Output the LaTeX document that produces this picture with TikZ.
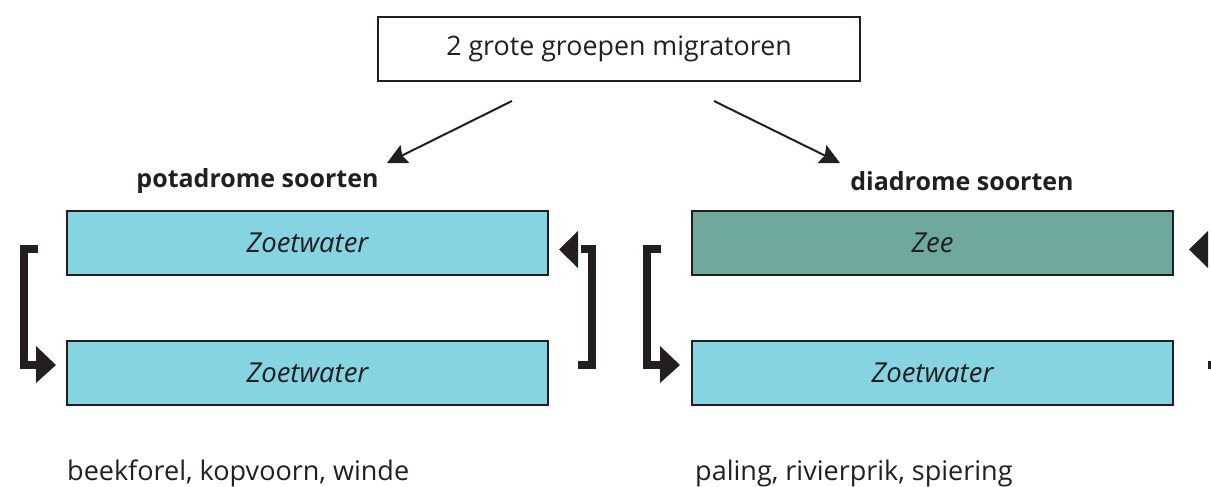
\documentclass[tikz,border=0pt]{standalone}
\usepackage{fontspec}
\setmainfont{Open Sans}
\usetikzlibrary{arrows.meta}
\definecolor{ink}{HTML}{231F20}
\definecolor{fresh}{HTML}{86D3E2}
\definecolor{sea}{HTML}{6FA89D}
\tikzset{
  zone/.style={draw=ink, line width=2pt, minimum width=481pt, minimum height=64pt, inner sep=0pt, font=\fontsize{27.5}{32}\selectfont\itshape, text=ink},
  headbox/.style={draw=ink, line width=2pt, fill=white, minimum width=482pt, minimum height=64pt, inner sep=0pt, font=\fontsize{26.8}{32}\selectfont, text=ink},
  grouplabel/.style={font=\fontsize{25}{30}\selectfont\bfseries, text=ink, inner sep=0pt},
  species/.style={font=\fontsize{27}{32}\selectfont, text=ink, inner sep=0pt, anchor=base west},
  split/.style={draw=ink, line width=2pt, -{Stealth[length=20pt,width=20pt,inset=3pt]}},
  bracket/.style={draw=ink, line width=8pt, line join=miter, line cap=butt},
  tip/.style={fill=ink}
}
\begin{document}
\begin{tikzpicture}[x=1pt,y=-1pt]
\useasboundingbox (0,0) rectangle (1211,487);
\clip (0,0) rectangle (1211,487);

% heading and the two groups
\node[headbox] (top) at (619,49) {2 grote groepen migratoren};
\node[grouplabel] (pota) at (257.5,181) {potadrome soorten};
\node[grouplabel] (dia) at (962,181) {diadrome soorten};

\coordinate (topL) at (512,101);
\coordinate (topR) at (714,101);
\coordinate (potaT) at (387,163);
\coordinate (diaT) at (840,163);
\draw[split] (topL) -- (potaT);
\draw[split] (topR) -- (diaT);

% habitat zones
\node[zone, fill=fresh] (pA) at (307.5,243) {Zoetwater};
\node[zone, fill=fresh] (pB) at (307.5,372.5) {Zoetwater};
\node[zone, fill=sea]   (dA) at (932.5,243) {Zee};
\node[zone, fill=fresh] (dB) at (932.5,372.5) {Zoetwater};

% potadrome: downstream loop on the left
\draw[bracket] (38,248.5) -- (23.5,248.5) -- (23.5,364.5) -- (36,364.5);
\fill[tip] (36,346) -- (56,365) -- (36,383) -- cycle;

% potadrome: upstream loop on the right
\draw[bracket] (581,248.5) -- (592,248.5) -- (592,364.5) -- (578,364.5);
\fill[tip] (578,231) -- (559,249.5) -- (578,268) -- cycle;

% diadrome: downstream loop on the left
\draw[bracket] (661,248.5) -- (646.5,248.5) -- (646.5,364.5) -- (660,364.5);
\fill[tip] (660,346) -- (680,365) -- (660,383) -- cycle;

% diadrome: upstream loop on the right
\draw[bracket] (1211,248.5) -- (1222,248.5) -- (1222,364.5) -- (1208,364.5);
\fill[tip] (1208,231) -- (1189,249.5) -- (1208,268) -- cycle;

% example species
\node[species] (exP) at (67,480) {beekforel, kopvoorn, winde};
\node[species] (exD) at (695,480) {paling, rivierprik, spiering};
\end{tikzpicture}
\end{document}
